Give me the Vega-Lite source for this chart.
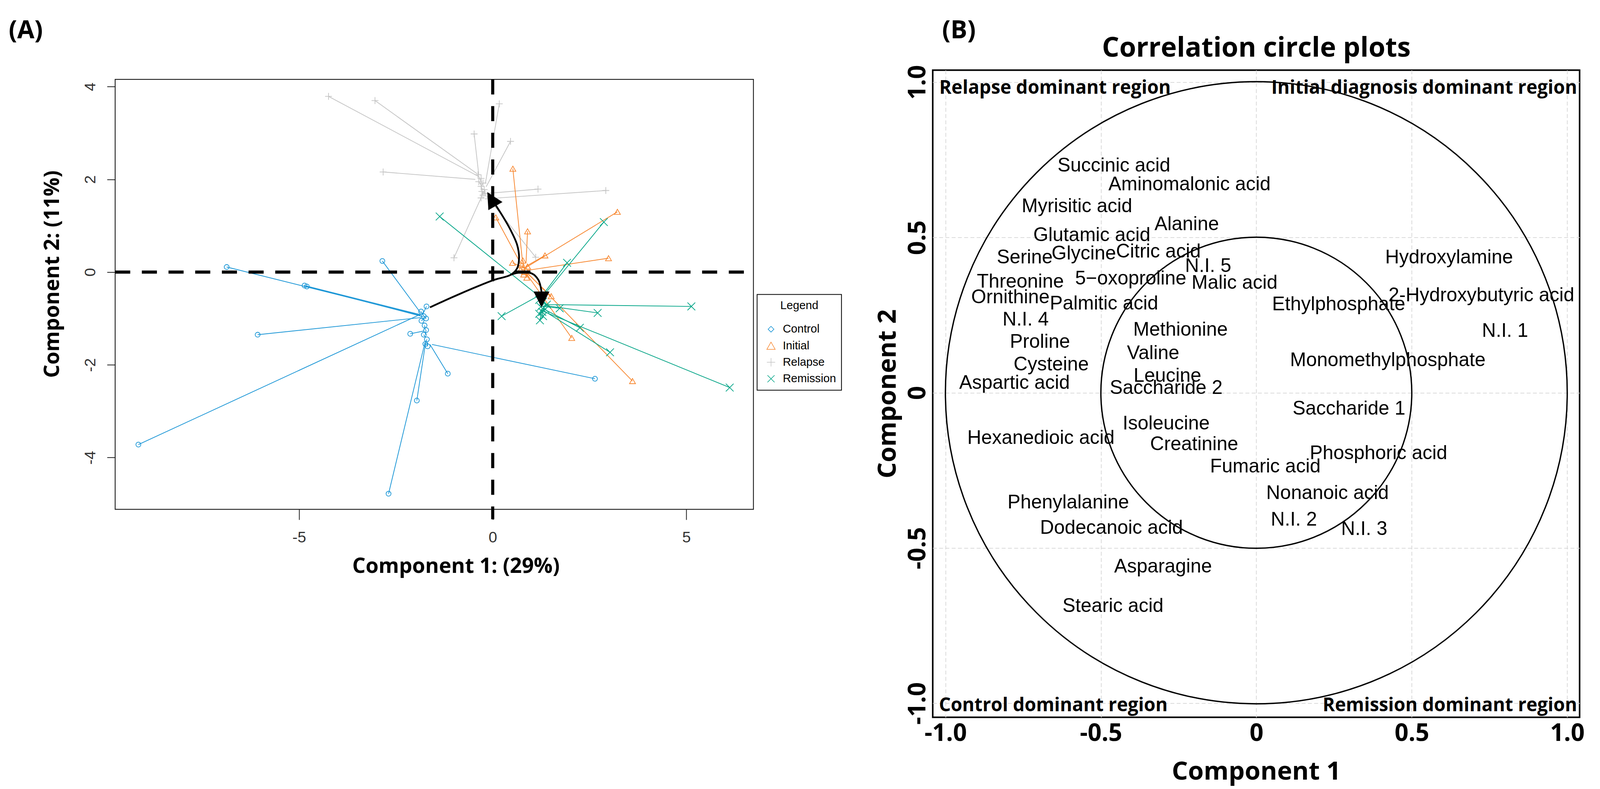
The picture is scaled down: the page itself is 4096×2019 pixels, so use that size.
{
  "$schema": "https://vega.github.io/schema/vega-lite/v6.json",
  "background": "white",
  "padding": {"left": 21.8, "top": 44.4, "right": 12, "bottom": 30},
  "autosize": {"type": "pad"},
  "bounds": "flush",
  "spacing": 459,
  "config": {
    "view": {"stroke": null},
    "axis": {"labelFlush": false, "labelOverlap": false},
    "legend": {"strokeWidth": 2}
  },
  "datasets": {
    "pca": [
      {"g": "Control", "x": -6.87, "y": 0.11, "cx": -1.87, "cy": -0.93},
      {"g": "Control", "x": -4.86, "y": -0.29, "cx": -1.86, "cy": -0.92},
      {"g": "Control", "x": -4.8, "y": -0.31, "cx": -1.8, "cy": -0.96},
      {"g": "Control", "x": -6.07, "y": -1.35, "cx": -1.85, "cy": -0.98},
      {"g": "Control", "x": -9.15, "y": -3.72, "cx": -1.84, "cy": -0.9},
      {"g": "Control", "x": -2.85, "y": 0.24, "cx": -1.86, "cy": -0.88},
      {"g": "Control", "x": -2.13, "y": -1.33, "cx": -1.78, "cy": -1.27},
      {"g": "Control", "x": -1.16, "y": -2.19, "cx": -1.62, "cy": -1.56},
      {"g": "Control", "x": -1.96, "y": -2.77, "cx": -1.73, "cy": -1.5},
      {"g": "Control", "x": -2.69, "y": -4.78, "cx": -1.75, "cy": -1.52},
      {"g": "Control", "x": 2.64, "y": -2.3, "cx": -1.57, "cy": -1.56},
      {"g": "Control", "x": -1.71, "y": -0.74, "cx": -1.8, "cy": -0.9},
      {"g": "Control", "x": -1.85, "y": -0.85, "cx": -1.8, "cy": -0.92},
      {"g": "Control", "x": -1.78, "y": -0.95, "cx": -1.8, "cy": -0.92},
      {"g": "Control", "x": -1.72, "y": -1.0, "cx": -1.78, "cy": -0.95},
      {"g": "Control", "x": -1.84, "y": -1.05, "cx": -1.78, "cy": -1.0},
      {"g": "Control", "x": -1.76, "y": -1.15, "cx": -1.74, "cy": -1.25},
      {"g": "Control", "x": -1.72, "y": -1.25, "cx": -1.74, "cy": -1.35},
      {"g": "Control", "x": -1.78, "y": -1.35, "cx": -1.74, "cy": -1.4},
      {"g": "Control", "x": -1.7, "y": -1.45, "cx": -1.72, "cy": -1.5},
      {"g": "Control", "x": -1.74, "y": -1.55, "cx": -1.72, "cy": -1.5},
      {"g": "Control", "x": -1.68, "y": -1.6, "cx": -1.7, "cy": -1.52},
      {"g": "Relapse", "x": -4.24, "y": 3.79, "cx": -0.38, "cy": 2.07},
      {"g": "Relapse", "x": -3.04, "y": 3.7, "cx": -0.4, "cy": 2.12},
      {"g": "Relapse", "x": -2.83, "y": 2.16, "cx": -0.45, "cy": 2.0},
      {"g": "Relapse", "x": -0.48, "y": 2.98, "cx": -0.36, "cy": 2.1},
      {"g": "Relapse", "x": 0.17, "y": 3.63, "cx": -0.19, "cy": 1.91},
      {"g": "Relapse", "x": 0.46, "y": 2.82, "cx": -0.17, "cy": 1.84},
      {"g": "Relapse", "x": 1.17, "y": 1.79, "cx": -0.25, "cy": 1.69},
      {"g": "Relapse", "x": 2.92, "y": 1.76, "cx": -0.2, "cy": 1.58},
      {"g": "Relapse", "x": -1.0, "y": 0.31, "cx": -0.28, "cy": 1.64},
      {"g": "Relapse", "x": 1.11, "y": 0.32, "cx": -0.16, "cy": 1.64},
      {"g": "Relapse", "x": -0.38, "y": 2.1, "cx": -0.3, "cy": 1.95},
      {"g": "Relapse", "x": -0.3, "y": 2.02, "cx": -0.3, "cy": 1.9},
      {"g": "Relapse", "x": -0.36, "y": 1.95, "cx": -0.28, "cy": 1.85},
      {"g": "Relapse", "x": -0.25, "y": 1.92, "cx": -0.3, "cy": 1.85},
      {"g": "Relapse", "x": -0.3, "y": 1.85, "cx": -0.28, "cy": 1.8},
      {"g": "Relapse", "x": -0.22, "y": 1.78, "cx": -0.28, "cy": 1.8},
      {"g": "Relapse", "x": -0.28, "y": 1.74, "cx": -0.28, "cy": 1.8},
      {"g": "Relapse", "x": -0.25, "y": 1.66, "cx": -0.27, "cy": 1.75},
      {"g": "Relapse", "x": -0.3, "y": 1.6, "cx": -0.27, "cy": 1.72},
      {"g": "Relapse", "x": -0.2, "y": 1.7, "cx": -0.27, "cy": 1.75},
      {"g": "Initial", "x": 0.52, "y": 2.23, "cx": 0.77, "cy": 0.22},
      {"g": "Initial", "x": 0.08, "y": 1.18, "cx": 0.7, "cy": 0.22},
      {"g": "Initial", "x": 0.9, "y": 0.88, "cx": 0.86, "cy": 0.2},
      {"g": "Initial", "x": 1.35, "y": 0.36, "cx": 0.85, "cy": 0.12},
      {"g": "Initial", "x": 2.99, "y": 0.3, "cx": 0.9, "cy": 0.04},
      {"g": "Initial", "x": 3.22, "y": 1.3, "cx": 0.86, "cy": 0.1},
      {"g": "Initial", "x": 0.51, "y": 0.2, "cx": 0.8, "cy": 0.1},
      {"g": "Initial", "x": 1.51, "y": -0.52, "cx": 0.86, "cy": 0.0},
      {"g": "Initial", "x": 2.04, "y": -1.42, "cx": 0.86, "cy": -0.02},
      {"g": "Initial", "x": 3.61, "y": -2.35, "cx": 0.9, "cy": -0.02},
      {"g": "Initial", "x": 0.75, "y": 0.15, "cx": 0.82, "cy": 0.08},
      {"g": "Initial", "x": 0.85, "y": 0.05, "cx": 0.82, "cy": 0.08},
      {"g": "Initial", "x": 0.8, "y": -0.05, "cx": 0.82, "cy": 0.05},
      {"g": "Initial", "x": 0.9, "y": 0.12, "cx": 0.82, "cy": 0.08},
      {"g": "Initial", "x": 0.78, "y": 0.25, "cx": 0.82, "cy": 0.1},
      {"g": "Initial", "x": 0.88, "y": -0.12, "cx": 0.84, "cy": 0.02},
      {"g": "Initial", "x": 0.82, "y": 0.0, "cx": 0.82, "cy": 0.06},
      {"g": "Initial", "x": 0.72, "y": 0.05, "cx": 0.8, "cy": 0.06},
      {"g": "Remission", "x": -1.37, "y": 1.2, "cx": 1.12, "cy": -0.47},
      {"g": "Remission", "x": 2.87, "y": 1.08, "cx": 1.3, "cy": -0.52},
      {"g": "Remission", "x": 1.92, "y": 0.2, "cx": 1.24, "cy": -0.55},
      {"g": "Remission", "x": 0.23, "y": -0.95, "cx": 1.12, "cy": -0.54},
      {"g": "Remission", "x": 5.13, "y": -0.74, "cx": 1.34, "cy": -0.7},
      {"g": "Remission", "x": 2.71, "y": -0.88, "cx": 1.34, "cy": -0.72},
      {"g": "Remission", "x": 1.73, "y": -0.78, "cx": 1.3, "cy": -0.74},
      {"g": "Remission", "x": 2.25, "y": -1.2, "cx": 1.28, "cy": -0.78},
      {"g": "Remission", "x": 3.03, "y": -1.73, "cx": 1.26, "cy": -0.8},
      {"g": "Remission", "x": 6.12, "y": -2.49, "cx": 1.26, "cy": -0.83},
      {"g": "Remission", "x": 1.2, "y": -0.6, "cx": 1.26, "cy": -0.72},
      {"g": "Remission", "x": 1.3, "y": -0.64, "cx": 1.26, "cy": -0.72},
      {"g": "Remission", "x": 1.24, "y": -0.75, "cx": 1.28, "cy": -0.78},
      {"g": "Remission", "x": 1.36, "y": -0.8, "cx": 1.28, "cy": -0.78},
      {"g": "Remission", "x": 1.2, "y": -0.9, "cx": 1.26, "cy": -0.8},
      {"g": "Remission", "x": 1.3, "y": -0.95, "cx": 1.27, "cy": -0.82},
      {"g": "Remission", "x": 1.22, "y": -1.04, "cx": 1.26, "cy": -0.85},
      {"g": "Remission", "x": 1.4, "y": -0.7, "cx": 1.3, "cy": -0.74},
      {"g": "Remission", "x": 1.28, "y": -0.86, "cx": 1.26, "cy": -0.8}
    ],
    "arrows": [
      {"p": "a", "o": 1, "x": -1.62, "y": -0.76},
      {"p": "a", "o": 2, "x": -0.85, "y": -0.47},
      {"p": "a", "o": 3, "x": 0.03, "y": -0.17},
      {"p": "a", "o": 4, "x": 0.46, "y": -0.06},
      {"p": "a", "o": 5, "x": 0.63, "y": 0.08},
      {"p": "a", "o": 6, "x": 0.68, "y": 0.31},
      {"p": "a", "o": 7, "x": 0.63, "y": 0.59},
      {"p": "a", "o": 8, "x": 0.46, "y": 0.91},
      {"p": "a", "o": 9, "x": 0.24, "y": 1.23},
      {"p": "a", "o": 10, "x": 0.08, "y": 1.44},
      {"p": "b", "o": 1, "x": 0.46, "y": -0.06},
      {"p": "b", "o": 2, "x": 0.68, "y": -0.01},
      {"p": "b", "o": 3, "x": 1.01, "y": -0.03},
      {"p": "b", "o": 4, "x": 1.18, "y": -0.17},
      {"p": "b", "o": 5, "x": 1.26, "y": -0.42}
    ],
    "vars": [
      {"label": "Succinic acid", "x": -0.458, "y": 0.731},
      {"label": "Aminomalonic acid", "x": -0.215, "y": 0.671},
      {"label": "Myrisitic acid", "x": -0.577, "y": 0.6},
      {"label": "Alanine", "x": -0.224, "y": 0.542},
      {"label": "Glutamic acid", "x": -0.529, "y": 0.507},
      {"label": "Serine", "x": -0.745, "y": 0.436},
      {"label": "Glycine", "x": -0.555, "y": 0.448},
      {"label": "Citric acid", "x": -0.315, "y": 0.454},
      {"label": "N.I. 5", "x": -0.155, "y": 0.408},
      {"label": "Hydroxylamine", "x": 0.62, "y": 0.435},
      {"label": "Threonine", "x": -0.759, "y": 0.357},
      {"label": "5−oxoproline", "x": -0.404, "y": 0.367},
      {"label": "Malic acid", "x": -0.07, "y": 0.354},
      {"label": "2-Hydroxybutyric acid", "x": 0.724, "y": 0.314},
      {"label": "Ornithine", "x": -0.791, "y": 0.307},
      {"label": "Palmitic acid", "x": -0.49, "y": 0.287},
      {"label": "Ethylphosphate", "x": 0.265, "y": 0.284},
      {"label": "N.I. 4", "x": -0.742, "y": 0.235},
      {"label": "N.I. 1", "x": 0.8, "y": 0.199},
      {"label": "Methionine", "x": -0.244, "y": 0.203},
      {"label": "Proline", "x": -0.696, "y": 0.163},
      {"label": "Valine", "x": -0.332, "y": 0.127},
      {"label": "Monomethylphosphate", "x": 0.423, "y": 0.104},
      {"label": "Cysteine", "x": -0.66, "y": 0.09},
      {"label": "Leucine", "x": -0.286, "y": 0.054},
      {"label": "Aspartic acid", "x": -0.778, "y": 0.031},
      {"label": "Saccharide 2", "x": -0.29, "y": 0.015},
      {"label": "Saccharide 1", "x": 0.298, "y": -0.051},
      {"label": "Isoleucine", "x": -0.29, "y": -0.1},
      {"label": "Hexanedioic acid", "x": -0.693, "y": -0.146},
      {"label": "Creatinine", "x": -0.2, "y": -0.166},
      {"label": "Phosphoric acid", "x": 0.393, "y": -0.195},
      {"label": "Fumaric acid", "x": 0.029, "y": -0.238},
      {"label": "Nonanoic acid", "x": 0.229, "y": -0.324},
      {"label": "Phenylalanine", "x": -0.605, "y": -0.353},
      {"label": "N.I. 2", "x": 0.121, "y": -0.409},
      {"label": "N.I. 3", "x": 0.347, "y": -0.439},
      {"label": "Dodecanoic acid", "x": -0.466, "y": -0.435},
      {"label": "Asparagine", "x": -0.3, "y": -0.56},
      {"label": "Stearic acid", "x": -0.461, "y": -0.687}
    ],
    "regionsLeft": [
      {"label": "Relapse dominant region", "x": -1.02, "y": 0.963},
      {"label": "Control dominant region", "x": -1.021, "y": -1.026}
    ],
    "regionsRight": [
      {"label": "Initial diagnosis dominant region", "x": 1.032, "y": 0.963},
      {"label": "Remission dominant region", "x": 1.032, "y": -1.026}
    ]
  },
  "hconcat": [
    {
      "width": 1634,
      "height": 1124,
      "view": {"stroke": null},
      "resolve": {"scale": {"color": "independent", "shape": "independent", "size": "independent"}},
      "layer": [
        {
          "data": {"values": [{}]},
          "mark": {"type": "rect", "fillOpacity": 0, "stroke": "#1a1a1a", "strokeWidth": 2.2},
          "encoding": {
            "x": {
              "datum": -9.75, "type": "quantitative",
              "scale": {"domain": [-9.75, 6.733], "nice": false, "zero": false},
              "axis": {
                "title": "Component 1: (29%)", "values": [-5, 0, 5], "format": "d", "domain": false, "grid": false,
                "ticks": true, "tickSize": 26.5, "tickWidth": 2, "tickColor": "#222",
                "labelFont": "Liberation Sans", "labelFontSize": 39.6, "labelColor": "#333",
                "labelPadding": 46, "labelBaseline": "middle",
                "labelExpr": "replace(datum.label, '−', '-')",
                "titleFont": "Open Sans", "titleFontSize": 53.5, "titleFontWeight": "bold", "titleColor": "black",
                "titleX": 872, "titleY": 146.5, "titleBaseline": "middle", "titleAlign": "center"
              }
            },
            "x2": {"datum": 6.733},
            "y": {
              "datum": -5.117, "type": "quantitative",
              "scale": {"domain": [-5.117, 4.357], "nice": false, "zero": false},
              "axis": {
                "title": "Component 2: (11%)", "values": [-4, -2, 0, 2, 4], "format": "d", "domain": false, "grid": false,
                "ticks": true, "tickSize": 20.8, "tickWidth": 2, "tickColor": "#222",
                "labelFont": "Liberation Sans", "labelFontSize": 39.6, "labelColor": "#333",
                "labelAngle": -90, "labelAlign": "center", "labelBaseline": "middle", "labelPadding": 42.6,
                "labelExpr": "replace(datum.label, '−', '-')",
                "titleFont": "Open Sans", "titleFontSize": 53.5, "titleFontWeight": "bold", "titleColor": "black",
                "titleAngle": -90, "titleX": -160, "titleY": 521.7, "titleBaseline": "middle", "titleAlign": "center"
              }
            },
            "y2": {"datum": 4.157}
          }
        },
        {
          "data": {"name": "pca"},
          "mark": {"type": "rule", "strokeWidth": 1.9},
          "encoding": {
            "x": {"field": "x", "type": "quantitative"},
            "y": {"field": "y", "type": "quantitative"},
            "x2": {"field": "cx"},
            "y2": {"field": "cy"},
            "color": {
              "field": "g", "type": "nominal",
              "scale": {"domain": ["Control", "Initial", "Relapse", "Remission"], "range": ["#1b96d6", "#f7862e", "#c4c4c4", "#00a486"]},
              "legend": null
            }
          }
        },
        {
          "data": {"name": "pca"},
          "mark": {"type": "point", "filled": false, "strokeWidth": 1.8, "opacity": 1},
          "encoding": {
            "x": {"field": "x", "type": "quantitative"},
            "y": {"field": "y", "type": "quantitative"},
            "color": {
              "field": "g", "type": "nominal",
              "scale": {"domain": ["Control", "Initial", "Relapse", "Remission"], "range": ["#1b96d6", "#f7862e", "#c4c4c4", "#00a486"]},
              "legend": null
            },
            "shape": {
              "field": "g", "type": "nominal",
              "scale": {"domain": ["Control", "Initial", "Relapse", "Remission"], "range": ["circle", "triangle-up", "M-1,0L1,0M0,-1L0,1", "M-1,-1L1,1M-1,1L1,-1"]},
              "legend": null
            },
            "size": {
              "field": "g", "type": "ordinal",
              "scale": {"domain": ["Control", "Initial", "Relapse", "Remission"], "range": [156, 392, 676, 441]},
              "legend": null
            }
          }
        },
        {
          "data": {"values": [{}]},
          "mark": {"type": "rule", "color": "black", "strokeWidth": 7.9, "strokeDash": [38.6, 29.7], "strokeCap": "butt"},
          "encoding": {"x": {"datum": 0}, "y": {"datum": 4.157}, "y2": {"datum": -5.33}}
        },
        {
          "data": {"values": [{}]},
          "mark": {"type": "rule", "color": "black", "strokeWidth": 7.9, "strokeDash": [38.6, 29.7], "strokeCap": "butt"},
          "encoding": {"y": {"datum": 0}, "x": {"datum": -9.75}, "x2": {"datum": 6.733}}
        },
        {
          "data": {"name": "arrows"},
          "mark": {"type": "line", "color": "black", "strokeWidth": 4.5, "interpolate": "catmull-rom"},
          "encoding": {
            "x": {"field": "x", "type": "quantitative"},
            "y": {"field": "y", "type": "quantitative"},
            "detail": {"field": "p"},
            "order": {"field": "o", "type": "quantitative"}
          }
        },
        {
          "data": {"values": [{}]},
          "mark": {"type": "point", "shape": "M0,-1L-1,1L1,1Z", "filled": true, "color": "black", "opacity": 1, "size": 1730, "angle": 330},
          "encoding": {"x": {"datum": -0.035}, "y": {"datum": 1.575}}
        },
        {
          "data": {"values": [{}]},
          "mark": {"type": "point", "shape": "M0,-1L-1,1L1,1Z", "filled": true, "color": "black", "opacity": 1, "size": 1650, "angle": 180},
          "encoding": {"x": {"datum": 1.26}, "y": {"datum": -0.59}}
        },
        {
          "data": {"values": [{}]},
          "mark": {"type": "text", "text": "(A)", "align": "left", "baseline": "alphabetic", "font": "Open Sans", "fontSize": 64, "fontWeight": "bold", "color": "black"},
          "encoding": {"x": {"datum": -12.5}, "y": {"datum": 5.042}}
        },
        {
          "data": {"values": []},
          "mark": {"type": "point", "filled": false, "opacity": 1, "strokeWidth": 1.5},
          "encoding": {
            "color": {
              "field": "g", "type": "nominal",
              "scale": {"domain": ["Control", "Initial", "Relapse", "Remission"], "range": ["#1b96d6", "#f7862e", "#c4c4c4", "#00a486"]},
              "legend": {
                "orient": "none", "legendX": 1643.4, "legendY": 574.2, "title": "Legend",
                "titleFont": "Liberation Sans", "titleFontSize": 29.2, "titleFontWeight": "normal", "titleColor": "black", "titleAnchor": "middle",
                "titlePadding": 31,
                "labelFont": "Liberation Sans", "labelFontSize": 29.2, "labelColor": "black", "labelOffset": 15.5,
                "symbolSize": 453, "symbolStrokeWidth": 1.5, "symbolOffset": 7,
                "rowPadding": 12.3, "padding": 14,
                "strokeColor": "black", "fillColor": "white", "cornerRadius": 0
              }
            },
            "shape": {
              "field": "g", "type": "nominal",
              "scale": {"domain": ["Control", "Initial", "Relapse", "Remission"], "range": ["M0,-0.7L0.7,0L0,0.7L-0.7,0Z", "triangle-up", "M-1,0L1,0M0,-1L0,1", "M-0.85,-0.85L0.85,0.85M-0.85,0.85L0.85,-0.85"]},
              "legend": {
                "orient": "none", "legendX": 1643.4, "legendY": 574.2, "title": "Legend",
                "titleFont": "Liberation Sans", "titleFontSize": 29.2, "titleFontWeight": "normal", "titleColor": "black", "titleAnchor": "middle",
                "titlePadding": 31,
                "labelFont": "Liberation Sans", "labelFontSize": 29.2, "labelColor": "black", "labelOffset": 15.5,
                "symbolSize": 453, "symbolStrokeWidth": 1.5, "symbolOffset": 7,
                "rowPadding": 12.3, "padding": 14,
                "strokeColor": "black", "fillColor": "white", "cornerRadius": 0
              }
            }
          }
        }
      ]
    },
    {
      "width": 1656,
      "height": 1656,
      "view": {"stroke": "black", "strokeWidth": 4},
      "layer": [
        {
          "data": {"values": [{}]},
          "mark": {"type": "point", "shape": "circle", "filled": false, "color": "black", "strokeWidth": 3.4, "opacity": 1, "size": 2534146},
          "encoding": {
            "x": {
              "datum": 0, "type": "quantitative",
              "scale": {"domain": [-1.041, 1.04], "nice": false, "zero": false},
              "axis": {
                "title": "Component 1", "values": [-1, -0.5, 0, 0.5, 1],
                "labelExpr": "datum.value == 0 ? '0' : replace(format(datum.value, '.1f'), '−', '-')",
                "grid": true, "gridDash": [10, 6], "gridColor": "#d6d6d6", "gridWidth": 1.8,
                "domain": false, "ticks": false, "tickSize": 0,
                "labelFont": "Open Sans", "labelFontWeight": "bold", "labelFontSize": 62, "labelColor": "black",
                "labelBaseline": "middle", "labelPadding": 41.6,
                "titleFont": "Open Sans", "titleFontWeight": "bold", "titleFontSize": 65, "titleColor": "black",
                "titleX": 828, "titleY": 139, "titleBaseline": "middle", "titleAlign": "center"
              }
            },
            "y": {
              "datum": 0, "type": "quantitative",
              "scale": {"domain": [-1.045, 1.039], "nice": false, "zero": false},
              "axis": {
                "title": "Component 2", "values": [-1, -0.5, 0, 0.5, 1],
                "labelExpr": "datum.value == 0 ? '0' : replace(format(datum.value, '.1f'), '−', '-')",
                "grid": true, "gridDash": [10, 6], "gridColor": "#d6d6d6", "gridWidth": 1.8,
                "domain": false, "ticks": false, "tickSize": 0,
                "labelFont": "Open Sans", "labelFontWeight": "bold", "labelFontSize": 62, "labelColor": "black",
                "labelAngle": -90, "labelAlign": "center", "labelBaseline": "middle", "labelPadding": 38.6,
                "titleFont": "Open Sans", "titleFontWeight": "bold", "titleFontSize": 65, "titleColor": "black",
                "titleAngle": -90, "titleX": -115, "titleY": 828, "titleBaseline": "middle", "titleAlign": "center"
              }
            }
          }
        },
        {
          "data": {"values": [{}]},
          "mark": {"type": "point", "shape": "circle", "filled": false, "color": "black", "strokeWidth": 3.4, "opacity": 1, "size": 633552},
          "encoding": {"x": {"datum": 0}, "y": {"datum": 0}}
        },
        {
          "data": {"name": "vars"},
          "mark": {"type": "text", "font": "Liberation Sans", "fontSize": 49.5, "align": "center", "baseline": "middle", "color": "black"},
          "encoding": {
            "x": {"field": "x", "type": "quantitative"},
            "y": {"field": "y", "type": "quantitative"},
            "text": {"field": "label"}
          }
        },
        {
          "data": {"name": "regionsLeft"},
          "mark": {"type": "text", "font": "Open Sans", "fontWeight": "bold", "fontSize": 47.5, "align": "left", "baseline": "alphabetic", "color": "black"},
          "encoding": {
            "x": {"field": "x", "type": "quantitative"},
            "y": {"field": "y", "type": "quantitative"},
            "text": {"field": "label"}
          }
        },
        {
          "data": {"name": "regionsRight"},
          "mark": {"type": "text", "font": "Open Sans", "fontWeight": "bold", "fontSize": 47.5, "align": "right", "baseline": "alphabetic", "color": "black"},
          "encoding": {
            "x": {"field": "x", "type": "quantitative"},
            "y": {"field": "y", "type": "quantitative"},
            "text": {"field": "label"}
          }
        },
        {
          "data": {"values": [{}]},
          "mark": {"type": "text", "text": "Correlation circle plots", "align": "center", "baseline": "alphabetic", "font": "Open Sans", "fontSize": 69.5, "fontWeight": "bold", "color": "black"},
          "encoding": {"x": {"datum": 0}, "y": {"datum": 1.082}}
        },
        {
          "data": {"values": [{}]},
          "mark": {"type": "text", "text": "(B)", "align": "left", "baseline": "alphabetic", "font": "Open Sans", "fontSize": 64, "fontWeight": "bold", "color": "black"},
          "encoding": {"x": {"datum": -1.011}, "y": {"datum": 1.141}}
        }
      ]
    }
  ]
}
